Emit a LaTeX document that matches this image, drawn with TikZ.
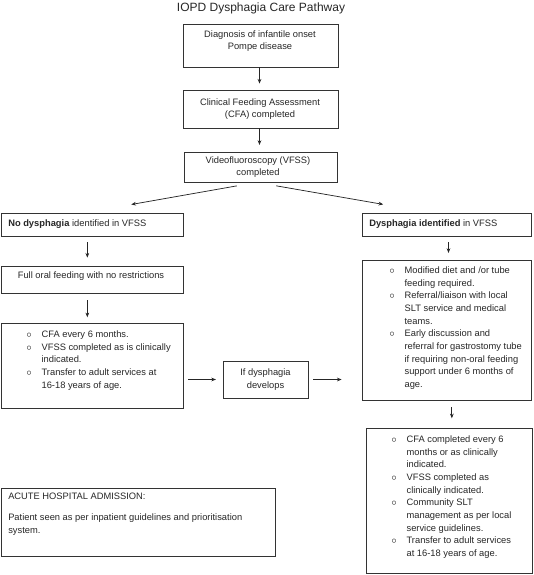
\documentclass[tikz,border=0pt]{standalone}
\usepackage{fontspec}
\setmainfont{Liberation Sans}
\usetikzlibrary{arrows.meta,fit}

\newcommand{\bl}{\makebox[11.5pt][l]{$\circ$}}
\newcommand{\ct}{\hspace*{11.5pt}}

\begin{document}
\begin{tikzpicture}[x=0.75pt,y=0.75pt,yscale=-1,xscale=1,
  box/.style={draw=black!80, line width=0.6pt, inner sep=0pt},
  txt/.style={inner sep=0pt, text=black!85, font=\fontsize{7}{9.5}\selectfont},
  flow/.style={draw=black!85, line width=0.55pt, -{Stealth[length=3.5pt,width=2.8pt]}}]
\useasboundingbox (0,0) rectangle (534,575);

% Text Node
\node[txt, font=\fontsize{9}{11}\selectfont] (title) at (261,8) {IOPD Dysphagia Care Pathway};

%Shape: Rectangle
\node[box, fit={(183,24) (338,67)}] (diag) {};
\node[txt, align=center] (diagt) at (260,41) {Diagnosis of infantile onset\\Pompe disease};
%Shape: Rectangle
\node[box, fit={(183,90) (338,128)}] (cfa) {};
\node[txt, align=center] (cfat) at (260,109) {Clinical Feeding Assessment\\(CFA) completed};
%Shape: Rectangle
\node[box, fit={(184,152) (337,182)}] (vfss) {};
\node[txt, align=center] (vfsst) at (258,167) {Videofluoroscopy (VFSS)\\completed};

%Shape: Rectangle
\node[box, fit={(1,213) (183,236)}] (nodys) {};
\node[txt, anchor=west] (nodyst) at (8,224.5) {\textbf{No dysphagia} identified in VFSS};
%Shape: Rectangle
\node[box, fit={(1,266) (183,293)}] (oral) {};
\node[txt] (oralt) at (91,276.5) {Full oral feeding with no restrictions};
%Shape: Rectangle
\node[box, fit={(1,323) (183,408)}] (review) {};
\node[txt, align=left, anchor=north west] (reviewt) at (26,330.5) {\bl CFA every 6 months.\\\bl VFSS completed as is clinically\\\ct indicated.\\\bl Transfer to adult services at\\\ct 16-18 years of age.};

%Shape: Rectangle
\node[box, fit={(223,361) (308,398)}] (develop) {};
\node[txt, align=center] (developt) at (265.5,379.5) {If dysphagia\\develops};

%Shape: Rectangle
\node[box, fit={(362,213) (531,236)}] (dys) {};
\node[txt, anchor=west] (dyst) at (369,224.5) {\textbf{Dysphagia identified} in VFSS};
%Shape: Rectangle
\node[box, fit={(362,260) (531,400)}] (manage) {};
\node[txt, align=left, anchor=north west] (managet) at (389,266.5) {\bl Modified diet and /or tube\\\ct feeding required.\\\bl Referral/liaison with local\\\ct SLT service and medical\\\ct teams.\\\bl Early discussion and\\\ct referral for gastrostomy tube\\\ct if requiring non-oral feeding\\\ct support under 6 months of\\\ct age.};
%Shape: Rectangle
\node[box, fit={(366,428) (532,573)}] (follow) {};
\node[txt, align=left, anchor=north west] (followt) at (391,435.5) {\bl CFA completed every 6\\\ct months or as clinically\\\ct indicated.\\\bl VFSS completed as\\\ct clinically indicated.\\\bl Community SLT\\\ct management as per local\\\ct service guidelines.\\\bl Transfer to adult services\\\ct at 16-18 years of age.};

%Shape: Rectangle
\node[box, fit={(1,488) (275,556)}] (acute) {};
\node[txt, align=left, anchor=north west] (acutet) at (8,493) {ACUTE HOSPITAL ADMISSION:\\[6pt]Patient seen as per inpatient guidelines and prioritisation\\system.};

%Straight Lines
\draw[flow, shorten >=4.5pt] ([xshift=-0.75pt]diag.south) -- ([xshift=-0.75pt]diag.south |- cfa.north);
\draw[flow, shorten >=5pt] ([xshift=-0.75pt]cfa.south) -- ([xshift=-0.75pt]cfa.south |- vfss.north);
\draw[flow, shorten <=15pt, shorten >=35pt] ([xshift=-3pt]vfss.south) -- ([xshift=-5pt]nodys.north);
\draw[flow, shorten <=15pt, shorten >=36pt] ([xshift=-3pt]vfss.south) -- ([xshift=-12pt]dys.north);
\draw[flow, shorten <=4.5pt, shorten >=6pt] ([xshift=-3.5pt]nodys.south) -- ([xshift=-3.5pt]nodys.south |- oral.north);
\draw[flow, shorten <=5pt, shorten >=4pt] ([xshift=-3.5pt]oral.south) -- ([xshift=-3.5pt]oral.south |- review.north);
\draw[flow, shorten <=3.5pt, shorten >=5pt] (review.east |- develop.west) -- (develop.west);
\draw[flow, shorten <=3.5pt, shorten >=15pt] (develop.east) -- (develop.east -| manage.west);
\draw[flow, shorten <=4.5pt, shorten >=5pt] ([xshift=1.5pt]dys.south) -- ([xshift=1.5pt]dys.south |- manage.north);
\draw[flow, shorten <=5pt, shorten >=7pt] ([xshift=4pt]manage.south) -- ([xshift=4pt]manage.south |- follow.north);

\end{tikzpicture}
\end{document}
